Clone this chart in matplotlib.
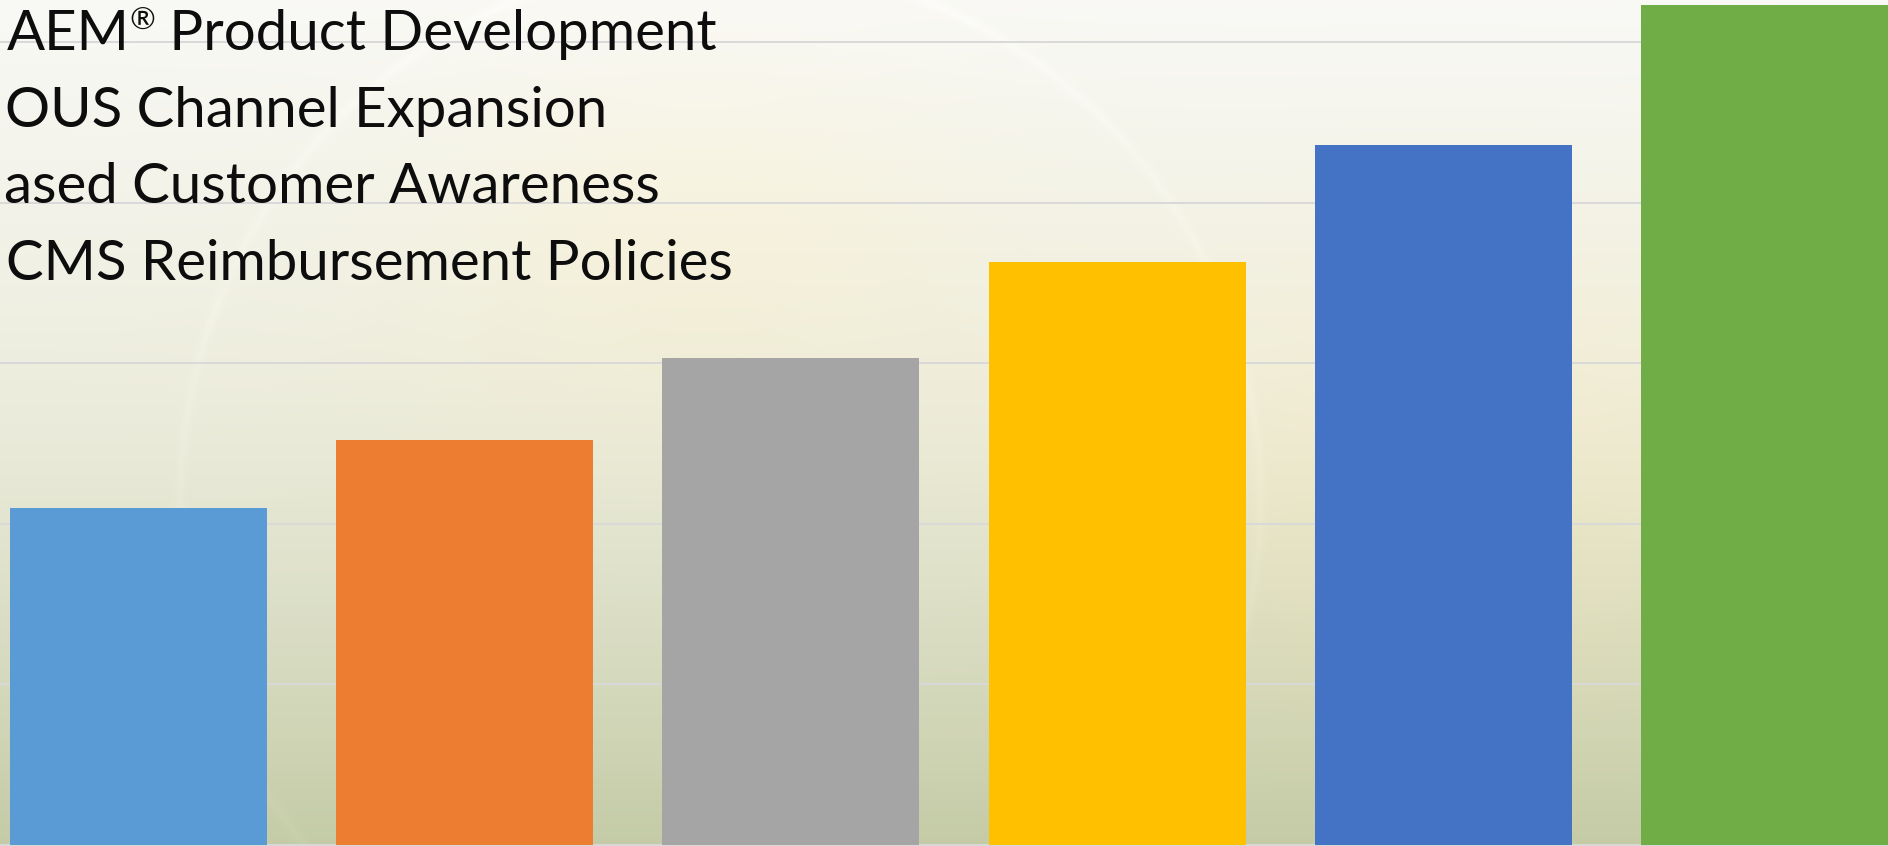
import numpy as np
import matplotlib
matplotlib.use("Agg")
import matplotlib.pyplot as plt

# ---- data ----
categories = ["A", "B", "C", "D", "E", "F"]
values = [21.0, 25.2, 30.3, 36.3, 43.6, 52.3]
bar_colors = ["#5B9BD5", "#ED7D31", "#A5A5A5", "#FFC000", "#4472C4", "#70AD47"]
grid_ticks = [0, 10, 20, 30, 40, 50]
text_lines = [("AEM", "\u00ae", " Product Development"),
              ("", "", "OUS Channel Expansion"),
              ("", "", "ased Customer Awareness"),
              ("", "", "CMS Reimbursement Policies")]

W, H = 1888, 846
fig = plt.figure(figsize=(W / 100, H / 100), dpi=100)

# ---- background (photo-like gradient) ----
bg = fig.add_axes([0, 0, 1, 1], zorder=0)
yy, xx = np.mgrid[0:H, 0:W]
t = yy / H
top = np.array([249, 249, 246], float)
mid = np.array([237, 237, 222], float)
bot = np.array([196, 203, 166], float)
img = np.where(t[..., None] < 0.45,
               top + (mid - top) * (t[..., None] / 0.45),
               mid + (bot - mid) * ((t[..., None] - 0.45) / 0.55) ** 1.2)
warm = np.exp(-(((xx - 1450) / 350.0) ** 2 + ((yy - 480) / 250.0) ** 2))
img += warm[..., None] * np.array([6, 0, -12], float)
warm2 = np.exp(-(((xx - 700) / 300.0) ** 2 + ((yy - 250) / 200.0) ** 2))
img += warm2[..., None] * np.array([4, 0, -10], float)
r = np.sqrt((xx - 720) ** 2 + (yy - 500) ** 2)
ring = np.exp(-((r - 540) / 5.0) ** 2)
img += ring[..., None] * np.array([3, 3, 4], float)
img = np.clip(img, 0, 255) / 255.0
bg.imshow(img, aspect="auto", extent=[0, W, H, 0])
bg.axis("off")

# ---- main chart ----
ax = fig.add_axes([0, 0, 1, 1], zorder=1)
ax.patch.set_alpha(0)
pitch = 326.2
c0 = 138.5
ax.set_xlim(-c0 / pitch, (W - c0) / pitch)
ppu = 16.06
ax.set_ylim(-(H - 845) / ppu, 845 / ppu)
x = np.arange(len(categories))
ax.bar(x, values, width=257 / pitch, color=bar_colors, zorder=3)
for g in grid_ticks:
    ax.axhline(g, color="#d9d9d9", lw=1.4, zorder=1)
for s in ax.spines.values():
    s.set_visible(False)
ax.set_xticks([])
ax.set_yticks([])

# ---- text lines ----
renderer = fig.canvas.get_renderer()
right_edges = [717, 607, 660, 733]
baselines = [50, 127, 203, 280]
fs = 40.6
kw = dict(family="Lato", fontweight="normal", color="#0d0d0d", zorder=5)
for (pre, sup, main), rx, by in zip(text_lines, right_edges, baselines):
    t_main = fig.text(rx / W, 1 - by / H, main, ha="right", va="baseline",
                      fontsize=fs, **kw)
    left = t_main.get_window_extent(renderer).x0
    if sup:
        t_sup = fig.text(left / W, 1 - (by - 20) / H, sup, ha="right",
                         va="baseline", fontsize=fs * 0.55, **kw)
        left = t_sup.get_window_extent(renderer).x0
    if pre:
        fig.text(left / W, 1 - by / H, pre, ha="right", va="baseline",
                 fontsize=fs, **kw)

fig.savefig("out.png", dpi=100)
